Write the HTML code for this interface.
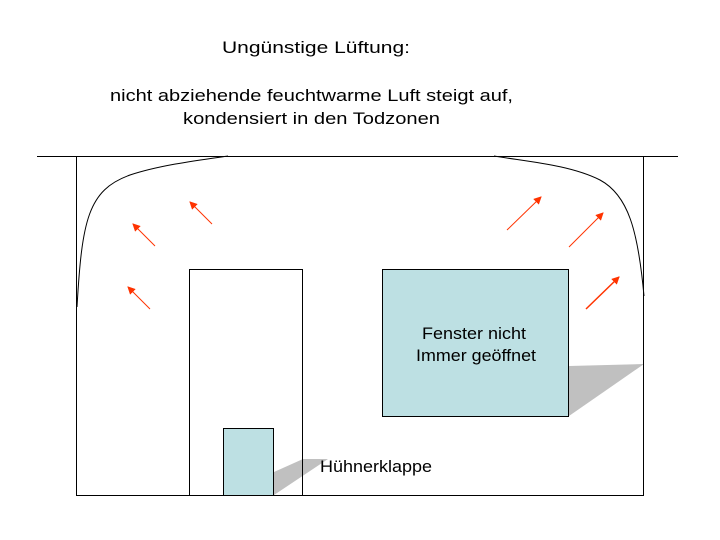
<!DOCTYPE html>
<html><head><meta charset="utf-8"><style>
html,body{margin:0;padding:0;background:#fff;}
svg{display:block;}
text{font-family:"Liberation Sans",Arial,sans-serif;font-size:17px;fill:#000;}
</style></head><body>
<svg width="720" height="540" viewBox="0 0 720 540" xmlns="http://www.w3.org/2000/svg">
<defs>
<marker id="a" markerWidth="8" markerHeight="8" refX="7" refY="4" orient="auto" markerUnits="userSpaceOnUse">
<path d="M0,0 L8,4 L0,8 Z" fill="#ff3300"/></marker>
</defs>
<text x="222" y="53" textLength="188" lengthAdjust="spacingAndGlyphs">Ungünstige Lüftung:</text>
<text x="110" y="101" textLength="403" lengthAdjust="spacingAndGlyphs">nicht abziehende feuchtwarme Luft steigt auf,</text>
<text x="183" y="124" textLength="257" lengthAdjust="spacingAndGlyphs">kondensiert in den Todzonen</text>
<!-- shadows -->
<polygon points="569,366 644,364 569,416" fill="#c0c0c0"/>
<polygon points="274,472 303,459 328,459 274,495" fill="#c0c0c0"/>
<!-- room -->
<line x1="37" y1="156.5" x2="678" y2="156.5" stroke="#000"/>
<line x1="76.5" y1="156" x2="76.5" y2="496" stroke="#000"/>
<line x1="643.5" y1="156" x2="643.5" y2="496" stroke="#000"/>
<line x1="76" y1="495.5" x2="644" y2="495.5" stroke="#000"/>
<!-- door -->
<path d="M189.5,496 V269.5 H302.5 V496" fill="none" stroke="#000"/>
<rect x="223.5" y="428.5" width="50" height="67" fill="#bde0e3" stroke="#000"/>
<!-- window -->
<rect x="382.5" y="269.5" width="186" height="147" fill="#bde0e3" stroke="#000"/>
<text x="422" y="339" textLength="104" lengthAdjust="spacingAndGlyphs">Fenster nicht</text>
<text x="416" y="361" textLength="120" lengthAdjust="spacingAndGlyphs">Immer geöffnet</text>
<text x="320" y="472" textLength="112" lengthAdjust="spacingAndGlyphs">Hühnerklappe</text>
<!-- curves -->
<path d="M77,307 C82,220 88,190 130,175 C160,165 200,160 228,156" fill="none" stroke="#000"/>
<path d="M494,156 C530,162 570,165 600,180 C628,195 638,230 644,296" fill="none" stroke="#000"/>
<!-- arrows -->
<g stroke="#ff3300" stroke-width="1" marker-end="url(#a)">
<line x1="155" y1="246" x2="133" y2="224"/>
<line x1="212" y1="224" x2="190" y2="202"/>
<line x1="150" y1="309" x2="128" y2="287"/>
<line x1="507" y1="230" x2="541" y2="197"/>
<line x1="569" y1="247" x2="603" y2="213"/>
<line x1="586" y1="309" x2="619" y2="277" stroke-width="1.5"/>
</g>
</svg>
</body></html>
